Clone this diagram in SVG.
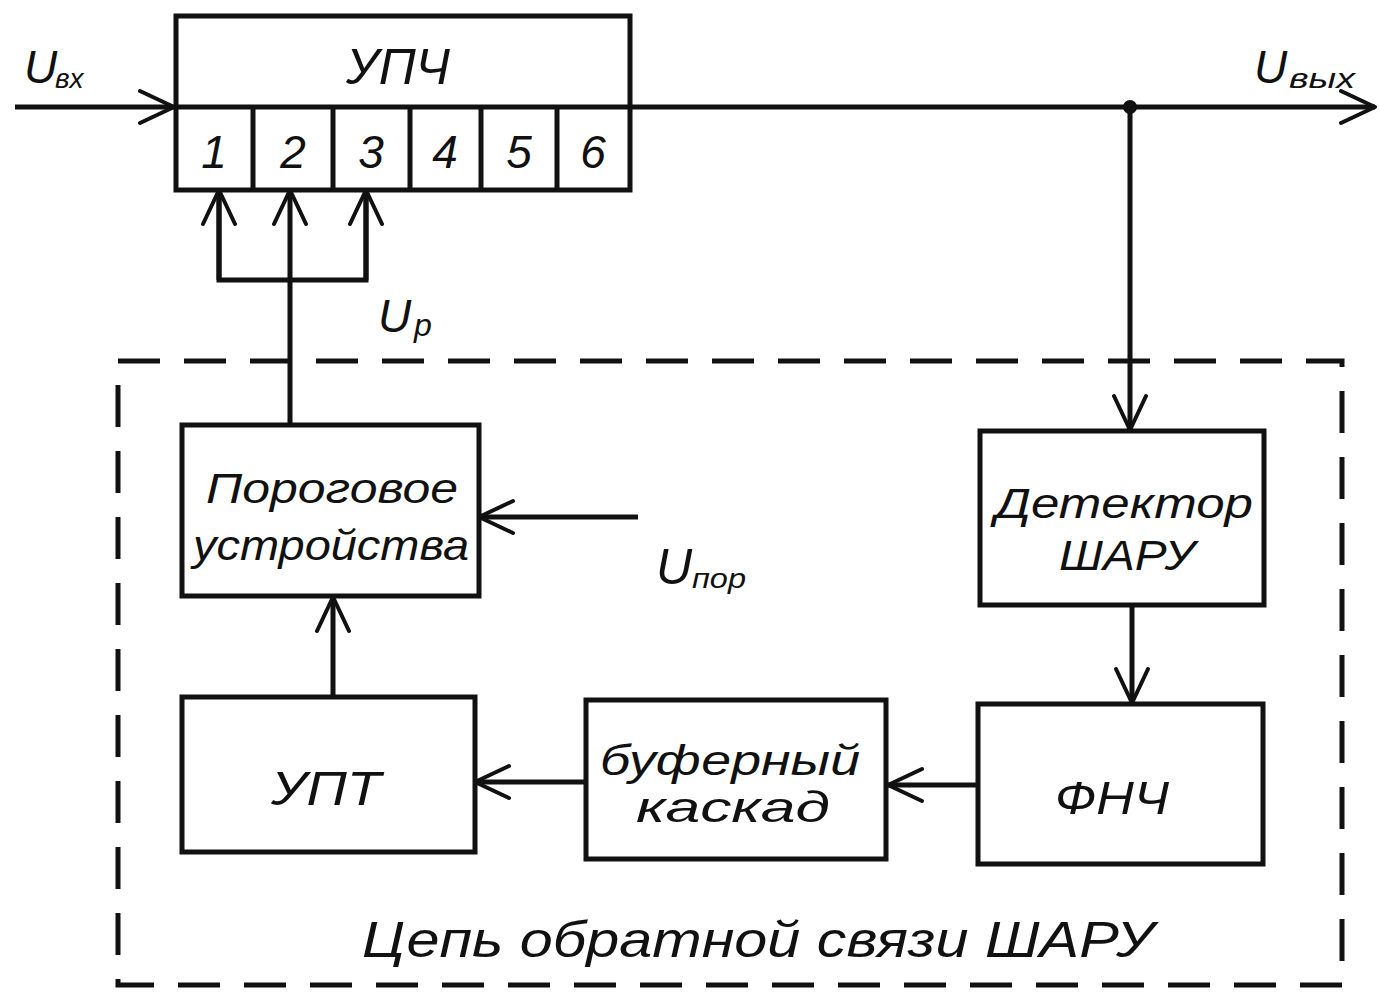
<svg xmlns="http://www.w3.org/2000/svg" width="1380" height="998" viewBox="0 0 1380 998">
<defs>
<style>
.box{fill:#fff;stroke:#111;stroke-width:5}
.ln{fill:none;stroke:#111;stroke-width:5}
.dash{fill:none;stroke:#111;stroke-width:5;stroke-dasharray:42 24}
.t{font-family:"Liberation Sans","DejaVu Sans",sans-serif;font-style:italic;fill:#111}
.sub{font-family:"Liberation Sans","DejaVu Sans",sans-serif;font-style:italic;fill:#111}
</style>
<marker id="arrL" viewBox="0 0 40 40" refX="38" refY="20" markerWidth="40" markerHeight="40" markerUnits="userSpaceOnUse" orient="auto">
<path d="M4,4 L38,20 L4,36" fill="none" stroke="#111" stroke-width="4" stroke-linecap="round" stroke-linejoin="round"/>
</marker>
</defs>
<rect width="1380" height="998" fill="#fff"/>

<g id="feedback-frame">
<rect class="dash" x="118" y="361" width="1224" height="624"/>
<text class="t" x="758" y="957" font-size="50" text-anchor="middle" textLength="792" lengthAdjust="spacingAndGlyphs">Цепь обратной связи ШАРУ</text>
</g>

<g id="connectors">
<line class="ln" x1="15" y1="107" x2="174" y2="107" marker-end="url(#arrL)"/>
<line class="ln" x1="630" y1="107" x2="1375" y2="107" marker-end="url(#arrL)"/>
<circle cx="1130" cy="107" r="7" fill="#111"/>
<line class="ln" x1="1130" y1="107" x2="1130" y2="430" marker-end="url(#arrL)"/>
<line class="ln" x1="1132" y1="605" x2="1132" y2="703" marker-end="url(#arrL)"/>
<line class="ln" x1="978" y1="785" x2="888" y2="785" marker-end="url(#arrL)"/>
<line class="ln" x1="586" y1="782" x2="475" y2="782" marker-end="url(#arrL)"/>
<line class="ln" x1="333" y1="697" x2="333" y2="597" marker-end="url(#arrL)"/>
<line class="ln" x1="638" y1="517" x2="479" y2="517" marker-end="url(#arrL)"/>
<line class="ln" x1="290" y1="425" x2="290" y2="190" marker-end="url(#arrL)"/>
<polyline class="ln" points="219,190 219,280 366,280 366,190"/>
<line class="ln" x1="219" y1="280" x2="219" y2="190" marker-end="url(#arrL)"/>
<line class="ln" x1="366" y1="280" x2="366" y2="190" marker-end="url(#arrL)"/>
</g>

<g id="labels">
<text class="t" x="24" y="83" font-size="46">U</text>
<text class="sub" x="55" y="88" font-size="28">вх</text>
<text class="t" x="1254" y="83" font-size="46">U</text>
<text class="sub" x="1289" y="88" font-size="28" textLength="66" lengthAdjust="spacingAndGlyphs">вых</text>
<text class="t" x="378" y="332" font-size="46">U</text>
<text class="sub" x="414" y="336" font-size="32">р</text>
<text class="t" x="656" y="584" font-size="50">U</text>
<text class="sub" x="692" y="588" font-size="28" textLength="54" lengthAdjust="spacingAndGlyphs">пор</text>
</g>

<g id="upch">
<rect class="box" x="176" y="16" width="454" height="174"/>
<line class="ln" x1="176" y1="107" x2="630" y2="107"/>
<line class="ln" x1="253" y1="107" x2="253" y2="190"/>
<line class="ln" x1="333" y1="107" x2="333" y2="190"/>
<line class="ln" x1="410" y1="107" x2="410" y2="190"/>
<line class="ln" x1="481" y1="107" x2="481" y2="190"/>
<line class="ln" x1="557" y1="107" x2="557" y2="190"/>
<text class="t" x="398" y="84" font-size="50" text-anchor="middle" textLength="104" lengthAdjust="spacingAndGlyphs">УПЧ</text>
<g font-size="46" text-anchor="middle">
<text class="t" x="214" y="168">1</text>
<text class="t" x="293" y="168">2</text>
<text class="t" x="371" y="168">3</text>
<text class="t" x="445" y="168">4</text>
<text class="t" x="519" y="168">5</text>
<text class="t" x="593" y="168">6</text>
</g>
</g>

<g id="porog">
<rect class="box" x="182" y="425" width="297" height="171"/>
<text class="t" x="332" y="503" font-size="42" text-anchor="middle" textLength="252" lengthAdjust="spacingAndGlyphs">Пороговое</text>
<text class="t" x="331" y="560" font-size="42" text-anchor="middle" textLength="276" lengthAdjust="spacingAndGlyphs">устройства</text>
</g>

<g id="detector">
<rect class="box" x="980" y="431" width="284" height="174"/>
<text class="t" x="1124" y="518" font-size="42" text-anchor="middle" textLength="258" lengthAdjust="spacingAndGlyphs">Детектор</text>
<text class="t" x="1127" y="570" font-size="42" text-anchor="middle" textLength="136" lengthAdjust="spacingAndGlyphs">ШАРУ</text>
</g>

<g id="upt">
<rect class="box" x="182" y="697" width="293" height="155"/>
<text class="t" x="326" y="805" font-size="48" text-anchor="middle" textLength="110" lengthAdjust="spacingAndGlyphs">УПТ</text>
</g>

<g id="buffer">
<rect class="box" x="586" y="700" width="300" height="159"/>
<text class="t" x="730" y="775" font-size="42" text-anchor="middle" textLength="260" lengthAdjust="spacingAndGlyphs">буферный</text>
<text class="t" x="733" y="822" font-size="42" text-anchor="middle" textLength="194" lengthAdjust="spacingAndGlyphs">каскад</text>
</g>

<g id="fnch">
<rect class="box" x="978" y="704" width="285" height="160"/>
<text class="t" x="1112" y="814" font-size="46" text-anchor="middle" textLength="114" lengthAdjust="spacingAndGlyphs">ФНЧ</text>
</g>
</svg>
